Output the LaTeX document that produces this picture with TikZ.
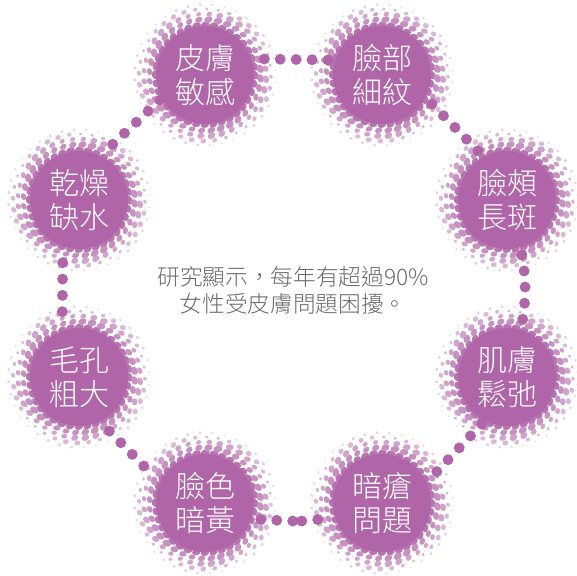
\documentclass[tikz,border=0pt]{standalone}
\usepackage{fontspec}
\setmainfont{Noto Sans CJK TC Light}
\usetikzlibrary{decorations.markings,calc}
\definecolor{plum}{HTML}{B065A8}
\definecolor{inktext}{HTML}{6A6A6A}
\tikzset{
  x=0.75pt,y=-0.75pt,
  disc/.style={circle,fill=plum,text=white,minimum size=73.5pt,inner sep=0pt,align=center,
    font=\fontsize{22.5}{25.5}\selectfont},
  caption/.style={text=inktext,align=center,font=\fontsize{17}{20.25}\selectfont},
  dotlink/.style={decoration={markings,
    mark=between positions 0 and 1 step {(1/#1)*0.999} with {\fill[plum] (0,0) circle (4.1pt);}},
    decorate}
}
\newcommand{\halftone}[1]{%
  \foreach \k/\rr/\wd/\ht/\mx in {0/49.5/4.6/3.6/90,1/55.5/4/3/72,2/61/3.3/2.6/60,3/66/2.4/2/46,4/70.5/1.4/1.3/30}{
    \foreach \a in {0,...,35}{
      \pgfmathsetmacro\th{\a*10+\k*5+\k*\k*1.5}
      \pgfmathsetmacro\sc{1+0.2*sin(5*\th+70*\k)*(\k+1)/3}
      \fill[plum!\mx!white,shift={($(#1)+(\th:\rr*0.75pt)$)},rotate=\th+115]
        (0,0) ellipse ({\wd*\sc*0.75pt} and {\ht*\sc*0.75pt});
    }
  }%
}
\begin{document}
\begin{tikzpicture}
\useasboundingbox (0,0) rectangle (577,575);
\coordinate (cA) at (205,75);
\coordinate (cB) at (382,75);
\coordinate (cC) at (507,200);
\coordinate (cD) at (507,377);
\coordinate (cE) at (382,503);
\coordinate (cF) at (205,503);
\coordinate (cG) at (79,377);
\coordinate (cH) at (79,200);
\foreach \c in {cA,cB,cC,cD,cE,cF,cG,cH}{\halftone{\c}}
\node[disc] (skinA) at (cA) {皮膚\\敏感};
\node[disc] (skinB) at (cB) {臉部\\細紋};
\node[disc] (skinC) at (cC) {臉頰\\長斑};
\node[disc] (skinD) at (cD) {肌膚\\鬆弛};
\node[disc] (skinE) at (cE) {暗瘡\\問題};
\node[disc] (skinF) at (cF) {臉色\\暗黃};
\node[disc] (skinG) at (cG) {毛孔\\粗大};
\node[disc] (skinH) at (cH) {乾燥\\缺水};
\node[caption] (msg) at (293,290.5) {研究顯示，每年有超過90\%\\女性受皮膚問題困擾。};
\coordinate (a1) at (264.3,59); \coordinate (a2) at (328,60);
\coordinate (b1) at (432,104); \coordinate (b2) at (478,151);
\coordinate (c1) at (521.7,255); \coordinate (c2) at (522.7,319.3);
\coordinate (d1) at (481.7,424); \coordinate (d2) at (436.7,471.7);
\coordinate (e1) at (317.7,519.5); \coordinate (e2) at (301.7,521);
\coordinate (e3) at (292.7,521); \coordinate (e4) at (260.7,519.5);
\coordinate (f1) at (143.7,466); \coordinate (f2) at (109.3,431);
\coordinate (g1) at (62.3,311.7); \coordinate (g2) at (62.7,262.7);
\coordinate (h1) at (112.7,144.3); \coordinate (h2) at (160,100);
\path[dotlink=4] (a1) -- (a2);
\path[dotlink=4] (b1) -- (b2);
\path[dotlink=4] (c1) .. controls (526,276) and (526,298) .. (c2);
\path[dotlink=4] (d1) -- (d2);
\path[dotlink=1] (e1) -- (e2);
\path[dotlink=2] (e3) -- (e4);
\path[dotlink=3] (f1) -- (f2);
\path[dotlink=3] (g1) -- (g2);
\path[dotlink=4] (h1) -- (h2);
\end{tikzpicture}
\end{document}
